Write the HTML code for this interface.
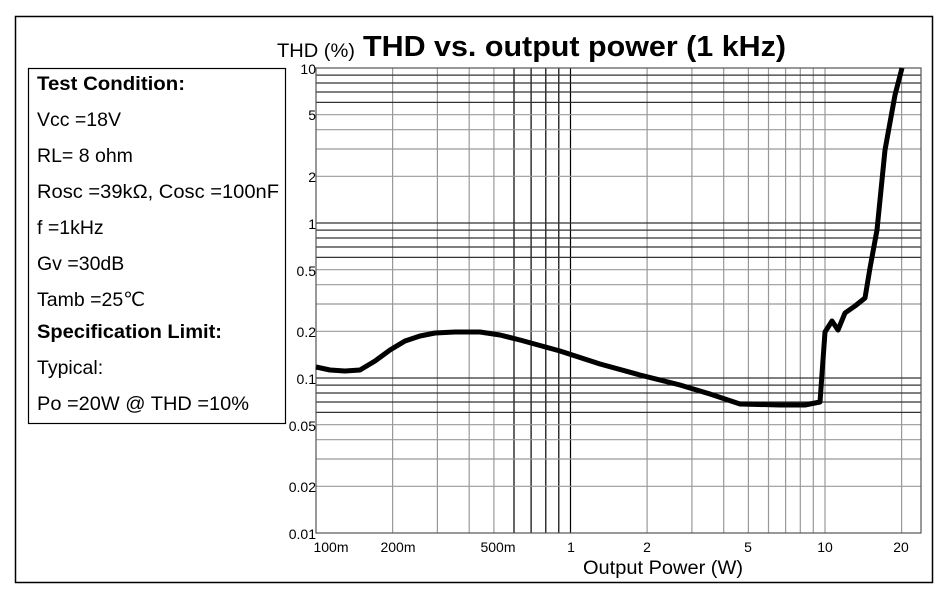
<!DOCTYPE html>
<html><head><style>body{margin:0;background:#fff}svg{display:block}</style></head><body>
<svg width="946" height="597" xmlns="http://www.w3.org/2000/svg" font-family="Liberation Sans, sans-serif">
<rect x="15.5" y="16.5" width="917" height="566" fill="none" stroke="#000" stroke-width="1.5"/>
<g stroke="#999" stroke-width="1.2">
<line x1="392.6" y1="68" x2="392.6" y2="533"/><line x1="437.4" y1="68" x2="437.4" y2="533"/><line x1="469.2" y1="68" x2="469.2" y2="533"/><line x1="493.9" y1="68" x2="493.9" y2="533"/><line x1="514" y1="68" x2="514" y2="533" stroke="#000"/><line x1="531.1" y1="68" x2="531.1" y2="533" stroke="#000"/><line x1="545.8" y1="68" x2="545.8" y2="533" stroke="#000"/><line x1="558.8" y1="68" x2="558.8" y2="533" stroke="#000"/><line x1="570.5" y1="68" x2="570.5" y2="533" stroke="#000"/>
<line x1="647.1" y1="68" x2="647.1" y2="533"/><line x1="691.9" y1="68" x2="691.9" y2="533"/><line x1="723.7" y1="68" x2="723.7" y2="533"/><line x1="748.4" y1="68" x2="748.4" y2="533"/><line x1="768.5" y1="68" x2="768.5" y2="533"/><line x1="785.6" y1="68" x2="785.6" y2="533"/><line x1="800.3" y1="68" x2="800.3" y2="533"/><line x1="813.3" y1="68" x2="813.3" y2="533"/><line x1="825" y1="68" x2="825" y2="533"/><line x1="901.6" y1="68" x2="901.6" y2="533"/>
<line x1="316" y1="486.3" x2="921" y2="486.3"/><line x1="316" y1="459" x2="921" y2="459"/><line x1="316" y1="439.7" x2="921" y2="439.7"/><line x1="316" y1="424.7" x2="921" y2="424.7"/><line x1="316" y1="412.4" x2="921" y2="412.4" stroke="#333"/><line x1="316" y1="402" x2="921" y2="402" stroke="#333"/><line x1="316" y1="393" x2="921" y2="393" stroke="#333"/><line x1="316" y1="385.1" x2="921" y2="385.1" stroke="#333"/><line x1="316" y1="378" x2="921" y2="378" stroke="#333"/>
<line x1="316" y1="331.3" x2="921" y2="331.3"/><line x1="316" y1="304" x2="921" y2="304"/><line x1="316" y1="284.7" x2="921" y2="284.7"/><line x1="316" y1="269.7" x2="921" y2="269.7"/><line x1="316" y1="257.4" x2="921" y2="257.4" stroke="#333"/><line x1="316" y1="247" x2="921" y2="247" stroke="#333"/><line x1="316" y1="238" x2="921" y2="238" stroke="#333"/><line x1="316" y1="230.1" x2="921" y2="230.1" stroke="#333"/><line x1="316" y1="223" x2="921" y2="223" stroke="#333"/>
<line x1="316" y1="176.3" x2="921" y2="176.3"/><line x1="316" y1="149" x2="921" y2="149"/><line x1="316" y1="129.7" x2="921" y2="129.7"/><line x1="316" y1="114.7" x2="921" y2="114.7"/><line x1="316" y1="102.4" x2="921" y2="102.4" stroke="#333"/><line x1="316" y1="92" x2="921" y2="92" stroke="#333"/><line x1="316" y1="83" x2="921" y2="83" stroke="#333"/><line x1="316" y1="75.1" x2="921" y2="75.1" stroke="#333"/>
</g>
<rect x="316" y="68" width="605" height="465" fill="none" stroke="#555" stroke-width="1.2"/>
<polyline fill="none" stroke="#000" stroke-width="5" stroke-linejoin="round" points="316,367 330,370 345,371 360,370 375,361 390,350 405,341 420,336 435,333 455,332 480,332 500,335 520,340 560,351 600,364 640,375 680,385 710,394 740,404 780,405 805,405 820,402 825,332 832,321 838,330 845,313 855,306 865,298 870,268 877,230 885,150 895,95 902,68"/>
<g font-size="14" text-anchor="end">
<text x="316" y="74">10</text><text x="316" y="120">5</text><text x="316" y="182">2</text><text x="316" y="229">1</text><text x="316" y="276">0.5</text><text x="316" y="337">0.2</text><text x="316" y="384">0.1</text><text x="316" y="431">0.05</text><text x="316" y="492">0.02</text><text x="316" y="539">0.01</text>
</g>
<g font-size="14" text-anchor="middle">
<text x="331" y="552">100m</text><text x="398" y="552">200m</text><text x="498" y="552">500m</text><text x="571" y="552">1</text><text x="647" y="552">2</text><text x="748" y="552">5</text><text x="825" y="552">10</text><text x="901" y="552">20</text>
</g>
<text x="583" y="574" font-size="19.5" textLength="160" lengthAdjust="spacingAndGlyphs">Output Power (W)</text>
<text x="277" y="57" font-size="19.5" textLength="78" lengthAdjust="spacingAndGlyphs">THD (%)</text>
<text x="363" y="56" font-size="29" font-weight="bold" textLength="423" lengthAdjust="spacingAndGlyphs">THD vs. output power (1 kHz)</text>
<rect x="28.5" y="68.5" width="257" height="355" fill="#fff" stroke="#000" stroke-width="1.2"/>
<g font-size="19.5">
<text x="37" y="90" font-weight="bold" textLength="148" lengthAdjust="spacingAndGlyphs">Test Condition:</text>
<text x="37" y="126">Vcc =18V</text>
<text x="37" y="162">RL= 8 ohm</text>
<text x="37" y="198" textLength="242" lengthAdjust="spacingAndGlyphs">Rosc =39kΩ, Cosc =100nF</text>
<text x="37" y="234">f =1kHz</text>
<text x="37" y="270">Gv =30dB</text>
<text x="37" y="306">Tamb =25℃</text>
<text x="37" y="338" font-weight="bold" textLength="185" lengthAdjust="spacingAndGlyphs">Specification Limit:</text>
<text x="37" y="374">Typical:</text>
<text x="37" y="410" textLength="212" lengthAdjust="spacingAndGlyphs">Po =20W @ THD =10%</text>
</g>
</svg>
</body></html>
